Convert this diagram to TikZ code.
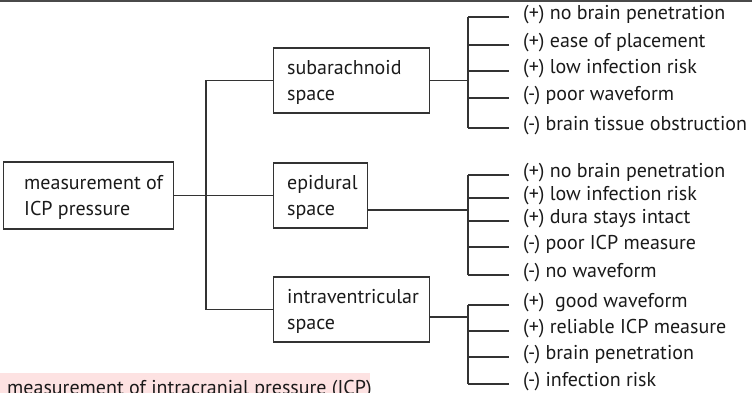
\documentclass[tikz,border=0pt]{standalone}
\usepackage{fontspec}
\setmainfont{PT Sans}
\definecolor{ln}{HTML}{333333}
\definecolor{txt}{HTML}{1A1A1A}
\definecolor{pinkbg}{HTML}{FDE2E2}
\definecolor{topbar}{HTML}{4A4A4A}
\begin{document}
\begin{tikzpicture}[x=1pt,y=-1pt,
  box/.style={draw=ln, line width=1.1pt, minimum height=65pt, anchor=west, inner sep=0pt},
  boxtext/.style={anchor=west, align=left, font=\fontsize{20}{26}\selectfont, inner sep=0pt, text=txt},
  item/.style={anchor=west, font=\fontsize{20}{24}\selectfont, inner sep=0pt, text height=0.75em, text depth=0.2em, text=txt},
  conn/.style={draw=ln, line width=1.1pt}]
\clip (0,0) rectangle (752,392);
\fill[topbar] (0,0) rectangle (752,1.5);
% boxes
\node[box, minimum width=170pt, minimum height=67pt] (root) at (3,195.5) {};
\node[boxtext] (rootT) at (24,197) {measurement of\\ICP pressure};
\node[box, minimum width=156pt] (sub) at (273,80.5) {};
\node[boxtext] (subT) at (287,82) {subarachnoid\\space};
\node[box, minimum width=94pt] (epi) at (273,195.5) {};
\node[boxtext] (epiT) at (287,197) {epidural\\space};
\node[box, minimum width=156pt] (intra) at (273,309.5) {};
\node[boxtext] (intraT) at (287,311) {intraventricular\\space};
% trunk
\coordinate (tk) at (206,0);
\draw[conn] (root.east) -- (epi.west);
\draw[conn] (sub.west) -- (sub.west -| tk) -- (intra.west -| tk) -- (intra.west);
% items
\node[item] (s1) at (523,17) {(+) no brain penetration};
\node[item] (s2) at (523,45) {(+) ease of placement};
\node[item] (s3) at (523,71) {(+) low infection risk};
\node[item] (s4) at (523,98) {(-) poor waveform};
\node[item] (s5) at (523,128) {(-) brain tissue obstruction};
\node[item] (e1) at (523,175) {(+) no brain penetration};
\node[item] (e2) at (523,198) {(+) low infection risk};
\node[item] (e3) at (523,221) {(+) dura stays intact};
\node[item] (e4) at (523,247) {(-) poor ICP measure};
\node[item] (e5) at (523,275) {(-) no waveform};
\node[item] (i1) at (523,305) {(+)\ \ good waveform};
\node[item] (i2) at (523,331) {(+) reliable ICP measure};
\node[item] (i3) at (523,357) {(-) brain penetration};
\node[item] (i4) at (523,384) {(-) infection risk};
% joins
\coordinate (sj) at (468,80.5);
\coordinate (ej) at (468,210);
\coordinate (ij) at (468,317);
\draw[conn] (sub.east) -- (sj);
\draw[conn] (epi.east |- ej) -- (ej);
\draw[conn] (intra.east |- ij) -- (ij);
% brackets
\draw[conn] (s1.west -| sj) -- (s5.west -| sj);
\draw[conn] (e1.west -| ej) -- (e5.west -| ej);
\draw[conn] (i1.west -| ij) -- (i4.west -| ij);
\foreach \n in {s1,s2,s3,s4,s5}{\draw[conn] (\n.west -| sj) -- ([xshift=-14pt]\n.west);}
\foreach \n in {e1,e2,e3,e4,e5}{\draw[conn] (\n.west -| ej) -- ([xshift=-14pt]\n.west);}
\foreach \n in {i1,i2,i3,i4}{\draw[conn] (\n.west -| ij) -- ([xshift=-14pt]\n.west);}
% caption strip
\fill[pinkbg] (0,373) rectangle (370,400);
\node[anchor=base west, font=\fontsize{20}{24}\selectfont, inner sep=0pt, text=txt] (cap) at (7,394) {measurement of intracranial pressure (ICP)};
\end{tikzpicture}
\end{document}
